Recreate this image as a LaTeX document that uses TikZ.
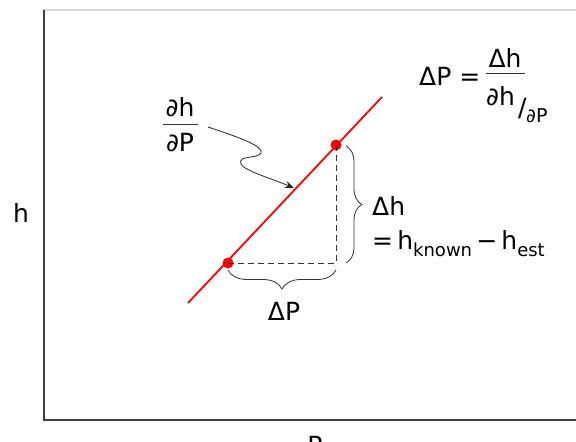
\documentclass[tikz,border=0pt]{standalone}
\usepackage{fontspec}
\setmainfont{DejaVu Sans}
\usetikzlibrary{decorations.pathreplacing,arrows.meta}
\newcommand{\subtxt}[1]{\raisebox{-7pt}{\fontsize{18}{20}\selectfont #1}}
\begin{document}
\begin{tikzpicture}[x=1pt,y=-1pt,
  lbl/.style={inner sep=0pt,font=\fontsize{25}{28}\selectfont},
  sublbl/.style={inner sep=0pt,font=\fontsize{19}{21}\selectfont},
  axis/.style={draw=black!75,line width=1.6pt},
  fit/.style={draw=red,line width=1.8pt},
  pt/.style={circle,fill=red,inner sep=0pt,minimum size=11pt},
  guide/.style={draw=black!80,dashed,dash pattern=on 6pt off 4pt,line width=0.8pt},
  brc/.style={draw=black!80,line width=0.8pt,decorate},
  bar/.style={draw=black!80,line width=0.9pt}]
\useasboundingbox (0,0) rectangle (576,442);
% axes
\coordinate (tl) at (44,10);
\coordinate (tr) at (576,10);
\coordinate (bl) at (44,420);
\coordinate (br) at (576,420);
\draw[black!15,line width=1.5pt] (tl) -- (tr);
\draw[axis] (tl) -- (bl) -- (br);
\node[lbl,anchor=base] (hax) at (21,222) {h};
\node[lbl,anchor=base] (pax) at (315,454) {P};
% fit line
\coordinate (la) at (188,303);
\coordinate (lb) at (382,97);
\draw[fit] (la) -- (lb);
\node[pt] (p1) at (228,263) {};
\node[pt] (p2) at (336,145) {};
\coordinate (corner) at (336,263);
\draw[guide] (p1.center) -- (corner) -- (p2.center);
% braces
\draw[brc,decoration={brace,amplitude=16pt}] (346,146) -- (346,263);
\draw[brc,decoration={brace,amplitude=19pt}] (336,270) -- (228,270);
\node[lbl,anchor=base] (dP) at (284,320) {ΔP};
\node[lbl,anchor=base west] (dh) at (372,215) {Δh};
\node[lbl,anchor=base west] (eq) at (372,249) {=\,h\subtxt{known}\,−\,h\subtxt{est}};
% derivative label
\node[lbl,anchor=base] (dhn) at (180,116) {∂h};
\draw[bar] (163,124) -- (198,124);
\node[lbl,anchor=base] (dpn) at (180,151) {∂P};
\coordinate (ar) at (294,188);
\draw[draw=black!85,line width=0.8pt,-{Stealth[length=9pt,width=7pt]}] (208,127) .. controls (238,137) and (264,146) .. (261,153) .. controls (258,159) and (237,155) .. (241,164) .. controls (245,171) and (270,178) .. (ar);
% formula
\node[lbl,anchor=base west] (dPl) at (419,85) {ΔP =};
\node[lbl,anchor=base] (fnum) at (505,67) {Δh};
\draw[bar] (486,73) -- (525,73);
\node[lbl,anchor=base west] (fd1) at (486,105) {∂h};
\node[lbl,anchor=base west] (fsl) at (518,116) {/};
\node[sublbl,anchor=base west] (fd2) at (526,122) {∂P};
\end{tikzpicture}
\end{document}
